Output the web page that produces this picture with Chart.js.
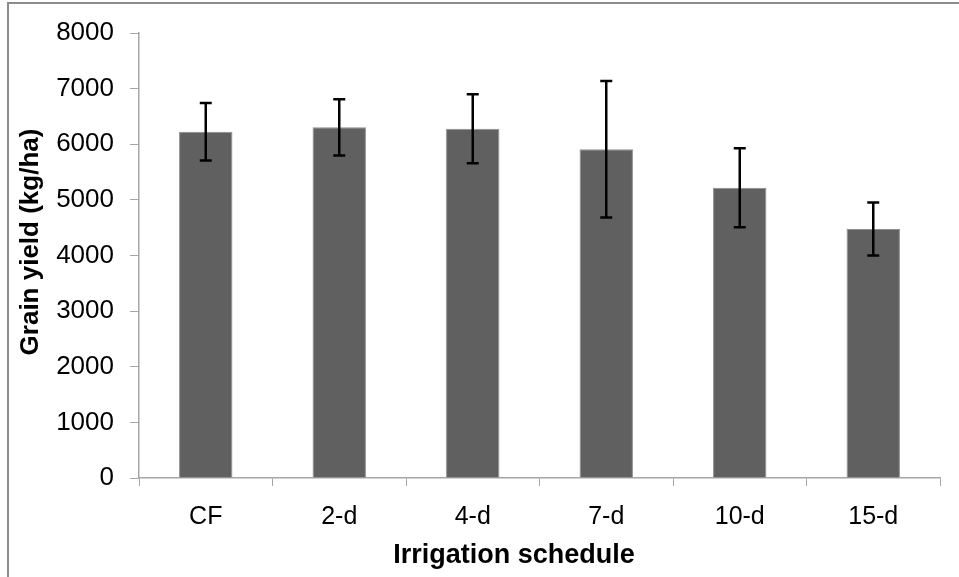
<!DOCTYPE html>
<html>
<head>
<meta charset="utf-8">
<script src="https://cdn.jsdelivr.net/npm/chart.js@4"></script>
<style>
  html, body { margin: 0; padding: 0; background: #fff; }
  #wrap { position: relative; width: 959px; height: 577px; overflow: hidden; }
  #frame {
    position: absolute; left: 7px; top: 2px; width: 1000px; height: 700px;
    border-left: 2px solid #8c8c8c; border-top: 2px solid #8c8c8c;
  }
  #myChart { position: absolute; left: 0; top: 0; }
</style>
</head>
<body>
<div id="wrap">
  <div id="frame"></div>
  <canvas id="myChart" width="959" height="577"></canvas>
</div>
<script>
let labels = ['CF', '2-d', '4-d', '7-d', '10-d', '15-d'];
// mean grain yield and its error (kg/ha)
let yieldMeans = [6225, 6305, 6280, 5910, 5220, 4478];
let yieldErrors = [516, 506, 620, 1225, 710, 476];
let yTicks = [0, 1000, 2000, 3000, 4000, 5000, 6000, 7000, 8000];

const axisGray = '#a6a6a6';

/* error bars on top of each bar */
const errorBars = {
    id: 'errorBars',
    afterDatasetsDraw(chart) {
        const ctx = chart.ctx;
        const meta = chart.getDatasetMeta(0);
        const y = chart.scales.y;
        ctx.save();
        ctx.strokeStyle = '#000';
        ctx.lineWidth = 2.5;
        meta.data.forEach((bar, i) => {
            const hi = y.getPixelForValue(yieldMeans[i] + yieldErrors[i]);
            const lo = y.getPixelForValue(yieldMeans[i] - yieldErrors[i]);
            const x = bar.x;
            ctx.beginPath();
            ctx.moveTo(x, hi); ctx.lineTo(x, lo);
            ctx.moveTo(x - 6, hi); ctx.lineTo(x + 6, hi);
            ctx.moveTo(x - 6, lo); ctx.lineTo(x + 6, lo);
            ctx.stroke();
        });
        ctx.restore();
    }
};

/* axis titles placed like the original sheet */
const axisTitles = {
    id: 'axisTitles',
    afterDraw(chart) {
        const ctx = chart.ctx;
        ctx.save();
        ctx.fillStyle = '#000';
        ctx.font = 'bold 27px "Liberation Sans", Arial, sans-serif';
        ctx.textAlign = 'center';
        ctx.textBaseline = 'alphabetic';
        ctx.fillText('Irrigation schedule', 514, 563);
        ctx.font = 'bold 26px "Liberation Sans", Arial, sans-serif';
        ctx.translate(38, 242);
        ctx.rotate(-Math.PI / 2);
        ctx.fillText('Grain yield (kg/ha)', 0, 0);
        ctx.restore();
    }
};

let data = {
    labels: labels,
    datasets: [{
        label: 'Grain yield',
        data: yieldMeans,
        backgroundColor: '#606060',
        borderColor: '#8e8e8e',
        borderWidth: 1,
        barPercentage: 0.4,
        categoryPercentage: 1.0
    }]
};

let config = {
    type: 'bar',
    data: data,
    options: {
        responsive: true,
        maintainAspectRatio: false,
        animation: false,
        layout: { padding: { top: 33, right: 19, left: 0, bottom: 0 } },
        plugins: {
            legend: { display: false },
            tooltip: { enabled: false }
        },
        scales: {
            x: {
                afterFit: (s) => { s.height = 99; },
                grid: {
                    offset: true,
                    drawOnChartArea: false,
                    drawTicks: true,
                    tickLength: 8,
                    color: axisGray
                },
                border: { display: true, color: axisGray, width: 1.5 },
                ticks: {
                    color: '#000',
                    padding: 16,
                    font: { family: '"Liberation Sans", Arial, sans-serif', size: 25 }
                }
            },
            y: {
                min: 0,
                max: 8000,
                afterFit: (s) => { s.width = 139; },
                afterBuildTicks: (s) => { s.ticks = yTicks.map(v => ({ value: v })); },
                grid: {
                    drawOnChartArea: false,
                    drawTicks: true,
                    tickLength: 9,
                    color: axisGray
                },
                border: { display: true, color: axisGray, width: 1.5 },
                ticks: {
                    color: '#000',
                    padding: 16,
                    callback: (v) => String(v),
                    font: { family: '"Liberation Sans", Arial, sans-serif', size: 26 }
                }
            }
        }
    },
    plugins: [errorBars, axisTitles]
};

var myChart = new Chart(
    document.getElementById('myChart').getContext('2d'),
    config
);
</script>
</body>
</html>
